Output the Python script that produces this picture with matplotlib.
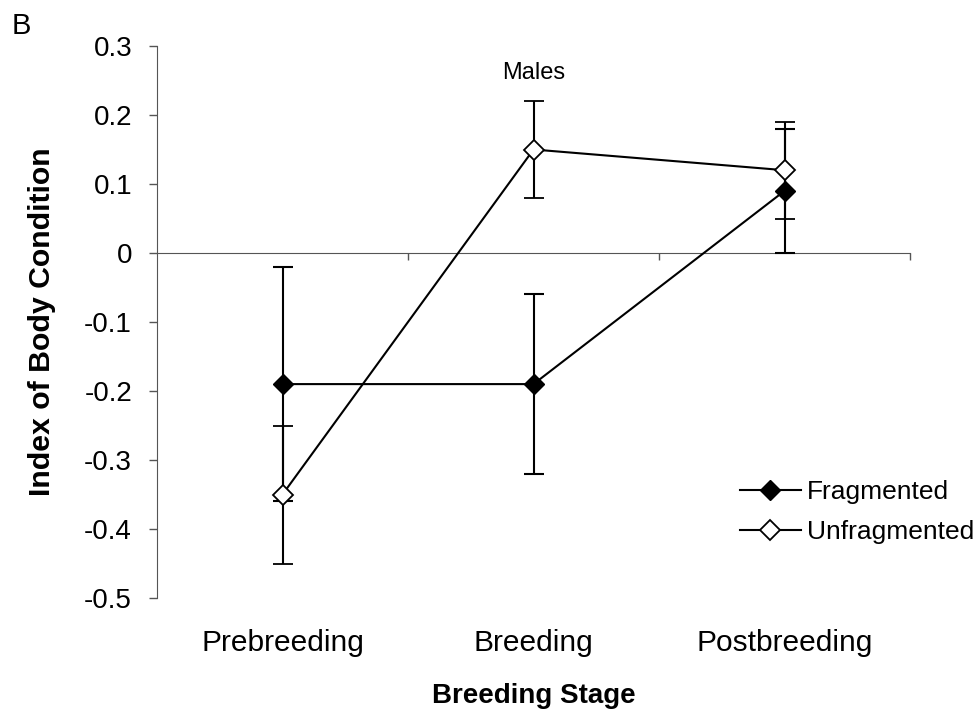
import matplotlib
matplotlib.use("Agg")
import matplotlib.pyplot as plt
import numpy as np

plt.rcParams['font.family'] = ['Liberation Sans', 'DejaVu Sans']

categories = ["Prebreeding", "Breeding", "Postbreeding"]
frag_mean = [-0.19, -0.19, 0.09]
frag_err = [0.17, 0.13, 0.09]
unfrag_mean = [-0.35, 0.15, 0.12]
unfrag_err = [0.10, 0.07, 0.07]
yticks = [0.3, 0.2, 0.1, 0, -0.1, -0.2, -0.3, -0.4, -0.5]
ytick_labels = ["0.3", "0.2", "0.1", "0", "-0.1", "-0.2", "-0.3", "-0.4", "-0.5"]

fig = plt.figure(figsize=(9.8, 7.13), dpi=100)
ax = fig.add_axes([157/980, 1-598/713, (910-157)/980, (598-46)/713])

x = np.arange(len(categories))
lf = ax.errorbar(x, frag_mean, yerr=frag_err, color='black', lw=1.5,
                 marker='D', markersize=10, markerfacecolor='black',
                 markeredgecolor='black', capsize=7, capthick=1.5,
                 elinewidth=1.5, label='Fragmented', zorder=3)
lu = ax.errorbar(x, unfrag_mean, yerr=unfrag_err, color='black', lw=1.5,
                 marker='D', markersize=10, markerfacecolor='white',
                 markeredgecolor='black', markeredgewidth=1.3, capsize=7,
                 capthick=1.5, elinewidth=1.5, label='Unfragmented', zorder=4)

ax.set_xlim(-0.5, len(categories) - 0.5)
ax.set_ylim(-0.5, 0.3)
ax.set_yticks(yticks)
ax.set_yticklabels(ytick_labels, fontsize=20)
ax.tick_params(axis='y', direction='out', length=6, width=1, color='#555555', pad=12)

for s in ['top', 'right']:
    ax.spines[s].set_visible(False)
ax.spines['left'].set_color('#555555')
ax.spines['bottom'].set_color('#555555')
ax.spines['bottom'].set_position(('data', 0))
ax.set_xticks(np.arange(len(categories)) + 0.5)
ax.set_xticklabels([])
ax.tick_params(axis='x', direction='out', length=5, width=1, color='#555555')

sec = ax.secondary_xaxis('bottom')
sec.set_xticks(x)
sec.set_xticklabels(categories, fontsize=21.5)
sec.tick_params(length=0, pad=22)
sec.spines['bottom'].set_visible(False)
sec.set_xlabel('Breeding Stage', fontsize=20, fontweight='bold', labelpad=19)

ax.set_ylabel('Index of Body Condition', fontsize=21.8, fontweight='bold')
ax.yaxis.set_label_coords(-(157-56)/753, 0.5)

ax.text(0.5, 0.951, 'Males', transform=ax.transAxes, ha='center', va='center', fontsize=17)
fig.text(12/980, 1-34/713, 'B', fontsize=21, va='baseline', ha='left')

ax.legend([lf.lines[0], lu.lines[0]], ['Fragmented', 'Unfragmented'],
          loc='center left', bbox_to_anchor=(740/980, 1-512/713),
          bbox_transform=fig.transFigure, frameon=False, fontsize=19,
          handlelength=2.3, handletextpad=0.25, labelspacing=0.62,
          borderpad=0, borderaxespad=0)

fig.savefig('out.png', dpi=100)
